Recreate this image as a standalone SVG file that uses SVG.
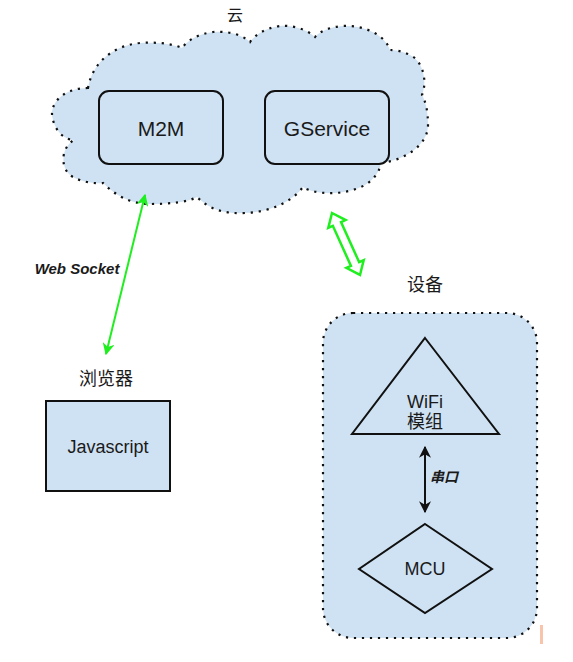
<svg xmlns="http://www.w3.org/2000/svg" width="573" height="662" viewBox="0 0 573 662">
<defs>
<style>
.lbl{font-family:"Liberation Sans","Noto Sans CJK SC",Arial,sans-serif;fill:#1a1a1a;text-anchor:middle;dominant-baseline:central}
.em{font-weight:bold;font-style:italic}
.box{fill:#cfe2f3;stroke:#111;stroke-width:2}
.dotted{fill:#cfe2f3;stroke:#111;stroke-width:2.2;stroke-dasharray:2.2 5.8}
</style>
<marker id="gh" viewBox="0 0 10 10" refX="9" refY="5" markerWidth="6" markerHeight="6" orient="auto-start-reverse" markerUnits="strokeWidth">
<path d="M0,0 L10,5 L0,10 L3,5 Z" fill="#1fee1f"/>
</marker>
<marker id="bh" viewBox="0 0 10 10" refX="9" refY="5" markerWidth="6" markerHeight="6" orient="auto-start-reverse" markerUnits="strokeWidth">
<path d="M0,0 L10,5 L0,10 L3,5 Z" fill="#111"/>
</marker>
</defs>
<rect width="573" height="662" fill="#ffffff"/>

<g id="cloud">
<path class="dotted" d="M88,88 C62,88 48,105 53,120 C56,132 65,140 74,140 C60,148 60,170 73,177 C82,182 95,184 103,183 C115,195 130,204 150,204 C170,204 188,202 197,197 C210,210 225,214 245,213 C270,212 292,202 303,187 C315,195 345,196 365,185 C375,179 380,170 381,163 C405,160 428,145 428,125 C428,110 425,100 422,95 C428,80 422,60 410,55 C402,51 395,50 390,50 C385,35 365,25 343,26 C330,27 320,31 315,37 C305,28 290,25 280,26 C265,28 255,35 250,42 C240,33 225,31 213,32 C198,34 188,40 182,48 C170,43 155,42 140,43 C110,46 92,65 88,88 Z"/>
<text class="lbl" x="235" y="15" font-size="16">云</text>
</g>

<g id="m2m">
<rect class="box" x="99" y="91" width="124" height="73" rx="10"/>
<text class="lbl" x="161" y="128" font-size="21">M2M</text>
</g>

<g id="gservice">
<rect class="box" x="265" y="91" width="124" height="73" rx="10"/>
<text class="lbl" x="327" y="128" font-size="21">GService</text>
</g>

<g id="browser">
<text class="lbl" x="106" y="379" font-size="18">浏览器</text>
<rect class="box" x="46" y="401" width="124" height="90"/>
<text class="lbl" x="108" y="447" font-size="18">Javascript</text>
</g>

<g id="device">
<text class="lbl" x="425" y="285" font-size="18">设备</text>
<rect class="dotted" x="323" y="313" width="214" height="325" rx="30"/>
</g>

<g id="wifi">
<polygon points="425,338 499,434 352,434" fill="#cfe2f3" stroke="#111" stroke-width="2"/>
<text class="lbl" x="425" y="402" font-size="18">WiFi</text>
<text class="lbl" x="425" y="422" font-size="18">模组</text>
</g>

<g id="mcu">
<polygon points="425,524 492,569 425,613 359,569" fill="#cfe2f3" stroke="#111" stroke-width="2"/>
<text class="lbl" x="425" y="569" font-size="18">MCU</text>
</g>

<g id="connectors">
<line x1="106" y1="354" x2="145" y2="195" stroke="#1fee1f" stroke-width="2" marker-start="url(#gh)" marker-end="url(#gh)"/>
<text class="lbl em" x="77" y="268" font-size="15">Web Socket</text>
<polygon transform="translate(332,213) rotate(65.7)" points="0,0 12,-9.5 12,-4.5 56,-4.5 56,-9.5 68,0 56,9.5 56,4.5 12,4.5 12,9.5" fill="#ffffff" stroke="#1fee1f" stroke-width="2.5" stroke-linejoin="miter"/>
<line x1="425" y1="512" x2="425" y2="447" stroke="#111" stroke-width="2" marker-start="url(#bh)" marker-end="url(#bh)"/>
<text class="lbl em" x="444" y="477" font-size="14">串口</text>
</g>

<rect x="540" y="625" width="3" height="19" fill="#f8c4ac"/>
</svg>
